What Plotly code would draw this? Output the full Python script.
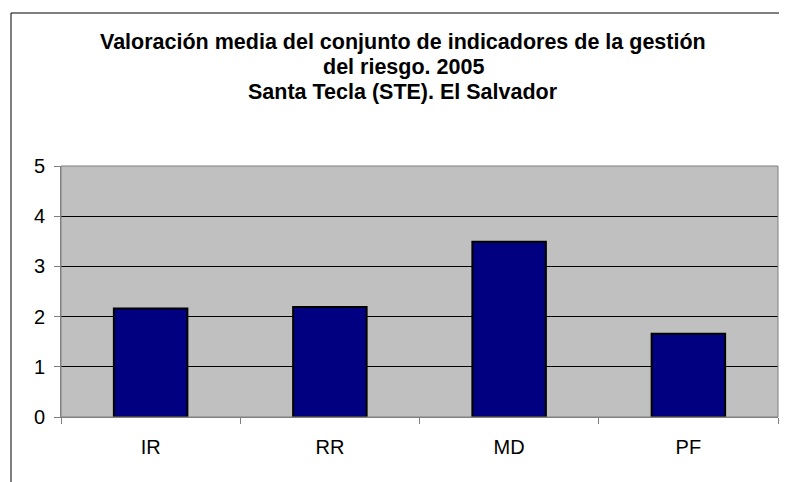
import plotly.graph_objects as go

categories = ['IR', 'RR', 'MD', 'PF']
values = [2.16, 2.19, 3.49, 1.66]
title_lines = [
    'Valoración media del conjunto de indicadores de la gestión',
    'del riesgo. 2005',
    'Santa Tecla (STE). El Salvador',
]

# the page body has an 8px margin, so the figure is drawn 8px in from the corner
W, H = 779, 474
L, R, T, B = 53, 9, 158, 65
pw, ph = W - L - R, H - T - B


def px_x(x):
    return (x - L) / pw


def px_y(y):
    return (H - B - y) / ph


fig = go.Figure()
fig.add_trace(go.Bar(
    x=categories, y=values,
    marker=dict(color='#000080', line=dict(color='black', width=2)),
    width=0.41,
))

fig.update_layout(
    width=W, height=H,
    margin=dict(l=L, r=R, t=T, b=B),
    paper_bgcolor='white',
    plot_bgcolor='#C0C0C0',
    showlegend=False,
    font=dict(family='Liberation Sans, Arial, sans-serif', color='black'),
    xaxis=dict(
        tickfont=dict(size=20),
        ticks='outside', ticklen=6, tickcolor='#808080', tickson='boundaries',
        ticklabelstandoff=12,
        showline=True, linecolor='#808080', linewidth=1,
        showgrid=False,
    ),
    yaxis=dict(
        range=[0, 5], dtick=1,
        tickfont=dict(size=20),
        ticks='outside', ticklen=6, tickcolor='#808080',
        ticklabelstandoff=5,
        showline=True, linecolor='#808080', linewidth=1,
        showgrid=True, gridcolor='black', gridwidth=1,
        zeroline=False,
    ),
)

# right and top border of the plot area
fig.add_shape(type='rect', xref='paper', yref='paper', x0=0, x1=1, y0=0, y1=1,
              line=dict(color='#808080', width=1), layer='above')

# chart area border (left and top)
fig.add_shape(type='line', xref='paper', yref='paper',
              x0=px_x(3), x1=px_x(3), y0=px_y(5), y1=px_y(H + 5),
              line=dict(color='black', width=1))
fig.add_shape(type='line', xref='paper', yref='paper',
              x0=px_x(3), x1=px_x(W + 5), y0=px_y(5), y1=px_y(5),
              line=dict(color='black', width=1))

for i, line in enumerate(title_lines):
    fig.add_annotation(
        text='<b>' + line + '</b>', xref='paper', yref='paper',
        x=px_x(395), y=px_y(34 + 25 * i), showarrow=False,
        xanchor='center', yanchor='middle',
        font=dict(size=21.5, color='black'),
    )

fig.write_html('out.html')
